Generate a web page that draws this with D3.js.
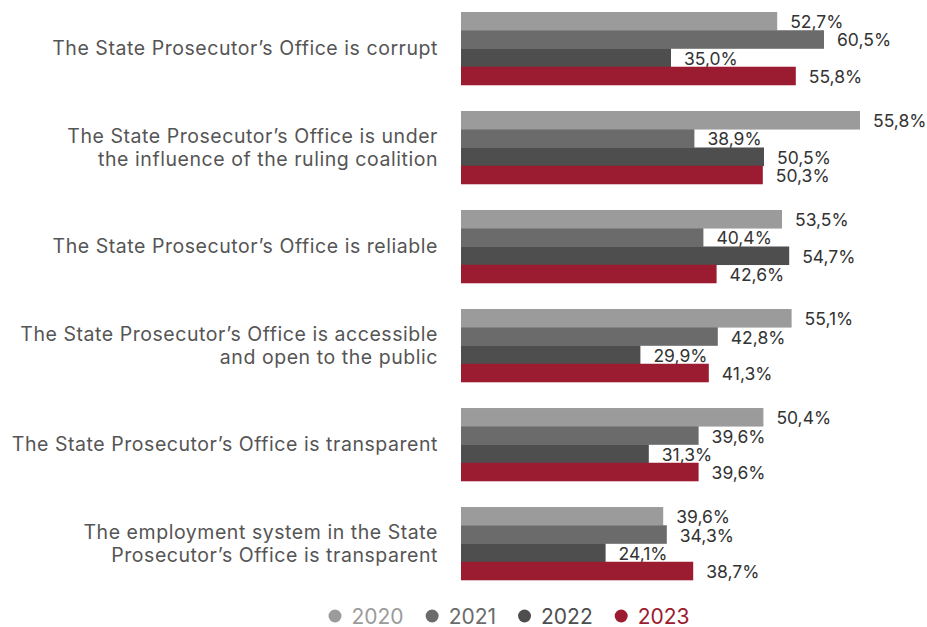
<!DOCTYPE html>
<html>
<head>
<meta charset="utf-8">
<script src="https://cdn.jsdelivr.net/npm/d3@7"></script>
<style>
  body { margin: 0; background: #fff; }
  svg { display: block; font-family: Inter, "Noto Sans", sans-serif; }
</style>
</head>
<body>
<svg id="chart" width="927" height="627"></svg>
<script>
const categories = [
  "The State Prosecutor\u2019s Office is corrupt",
  "The State Prosecutor\u2019s Office is under|the influence of the ruling coalition",
  "The State Prosecutor\u2019s Office is reliable",
  "The State Prosecutor\u2019s Office is accessible|and open to the public",
  "The State Prosecutor\u2019s Office is transparent",
  "The employment system in the State|Prosecutor\u2019s Office is transparent"
];
const years = ["2020", "2021", "2022", "2023"];
const colors = ["#9b9b9b", "#6b6b6b", "#4e4e4e", "#9b1c31"];

// bar lengths as drawn in the picture
const v2020 = [52.7, 66.5, 53.5, 55.1, 50.4, 33.7];
const v2021 = [60.5, 38.9, 40.4, 42.8, 39.6, 34.3];
const v2022 = [35.0, 50.5, 54.7, 29.9, 31.3, 24.1];
const v2023 = [55.8, 50.3, 42.6, 41.3, 39.6, 38.7];

// printed labels (two of them differ from the bar lengths in the source)
const l2020 = ["52,7%", "55,8%", "53,5%", "55,1%", "50,4%", "39,6%"];
const l2021 = ["60,5%", "38,9%", "40,4%", "42,8%", "39,6%", "34,3%"];
const l2022 = ["35,0%", "50,5%", "54,7%", "29,9%", "31,3%", "24,1%"];
const l2023 = ["55,8%", "50,3%", "42,6%", "41,3%", "39,6%", "38,7%"];

const values = [v2020, v2021, v2022, v2023];
const labels = [l2020, l2021, l2022, l2023];

const svg = d3.select("#chart");

const y = d3.scaleBand()
  .domain(categories)
  .range([12, 580])
  .paddingInner(0.263)
  .paddingOuter(0);

const y1 = d3.scaleBand()
  .domain(years)
  .range([0, y.bandwidth()]);

const x = d3.scaleLinear()
  .domain([0, 70])
  .range([461, 461 + 70 * 6]);

// category labels
categories.forEach(c => {
  const lines = c.split("|");
  const cy = y(c) + y.bandwidth() / 2;
  const lh = 23;
  const t = svg.append("text")
    .attr("text-anchor", "end")
    .attr("fill", "#555")
    .style("font-size", "19.5px")
    .style("letter-spacing", "0.55px");
  lines.forEach((ln, i) => {
    t.append("tspan")
      .attr("x", 438)
      .attr("y", cy - (lines.length - 1) * lh / 2 + i * lh)
      .attr("dy", "0.35em")
      .text(ln);
  });
});

// bars
years.forEach((yr, s) => {
  const g = svg.append("g");
  g.selectAll("rect")
    .data(categories)
    .join("rect")
    .attr("x", x(0))
    .attr("y", d => y(d) + y1(yr))
    .attr("width", (d, i) => x(values[s][i]) - x(0))
    .attr("height", y1.bandwidth() + 0.3)
    .attr("fill", colors[s]);

  g.selectAll("text")
    .data(categories)
    .join("text")
    .attr("x", (d, i) => x(values[s][i]) + 13)
    .attr("y", d => y(d) + y1(yr) + y1.bandwidth() - 2)
    .attr("fill", "#333")
    .style("font-size", "17.5px")
    .text((d, i) => labels[s][i]);
});

// legend
const legend = svg.append("g");
let lx = 0;
years.forEach((yr, s) => {
  const item = legend.append("g").attr("transform", `translate(${lx},0)`);
  item.append("circle").attr("cx", 6.5).attr("cy", 0).attr("r", 6.5).attr("fill", colors[s]);
  const t = item.append("text")
    .attr("x", 23)
    .attr("dy", "0.36em")
    .attr("fill", colors[s])
    .style("font-size", "21px")
    .text(yr);
  lx += 23 + t.node().getComputedTextLength() + 22;
});
legend.attr("transform", "translate(328.5,616)");
</script>
</body>
</html>
